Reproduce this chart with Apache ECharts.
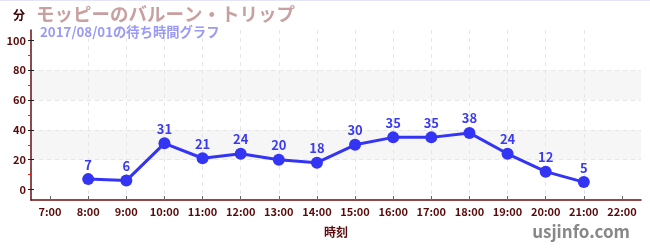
<!DOCTYPE html>
<html><head><meta charset="utf-8">
<script src="https://cdn.jsdelivr.net/npm/echarts@6/dist/echarts.min.js"></script>
<style>html,body{margin:0;padding:0;background:#fff}#c{width:650px;height:250px}</style>
</head><body><div id="c"></div>
<script>
const hours = [7,8,9,10,11,12,13,14,15,16,17,18,19,20,21,22];
const waitHours = [8,9,10,11,12,13,14,15,16,17,18,19,20,21];
const waitValues = [7,6,31,21,24,20,18,30,35,35,38,24,12,5];
const yMajorTicks = [0,20,40,60,80,100];
const yMinorTicks = [10,30,50,70,90];
const titleText = 'モッピーのバルーン・トリップ';
const subtitleText = '2017/08/01の待ち時間グラフ';
const unitText = '分';
const xName = '時刻';
const credit = 'usjinfo.com';

const FONT = '"Noto Sans CJK JP","Noto Sans",sans-serif';
const maroon = '#5a0a0a';
const chart = echarts.init(document.getElementById('c'), null, {renderer:'canvas'});
const data = waitHours.map((h,i)=>[h, waitValues[i]]);
chart.setOption({
  animation:false,
  textStyle:{fontFamily:FONT},
  title:[
    {text:titleText, left:31, top:0, textStyle:{fontFamily:FONT,fontSize:18.5,fontWeight:'bold',color:'#c9a0a0'}},
    {text:subtitleText, left:35, top:20, textStyle:{fontFamily:FONT,fontSize:13.3,fontWeight:'bold',color:'#9a9af5'}},
    {text:unitText, left:8, top:4, textStyle:{fontFamily:FONT,fontSize:12,fontWeight:'bold',color:'#3a0000'}},
    {text:credit, right:15, top:218, textStyle:{fontFamily:FONT,fontSize:17,fontWeight:'bold',color:'#888888'}}
  ],
  graphic:[{type:'rect',shape:{x:0,y:0,width:650,height:1},style:{fill:'#e4e4f8'},silent:true}],
  grid:{left:31,right:9,top:30,bottom:50,containLabel:false},
  xAxis:{
    type:'value', min:6.5, max:22.5,
    name:xName, nameLocation:'middle', nameGap:26,
    nameTextStyle:{fontFamily:FONT,fontSize:12,fontWeight:'bold',color:maroon},
    axisLine:{show:true,onZero:false,lineStyle:{color:'#6a0f0f',width:1.5}},
    axisTick:{show:true,inside:true,length:4,customValues:hours,lineStyle:{color:'#666'}},
    axisLabel:{customValues:hours,formatter:v=>v+':00',fontFamily:FONT,fontSize:11,fontWeight:'bold',color:maroon,margin:6},
    splitLine:{show:true,showMinLine:false,showMaxLine:false,lineStyle:{color:'#e6e6e6',type:[4,4]}}
  },
  yAxis:[
    {
      type:'value', min:-7, max:107,
      axisLine:{show:true,onZero:false,lineStyle:{color:'#6a0f0f',width:1.5}},
      axisTick:{show:true,length:3,customValues:yMajorTicks,lineStyle:{color:'#222'}},
      axisLabel:{customValues:yMajorTicks,fontFamily:FONT,fontSize:11,fontWeight:'bold',color:maroon,margin:5},
      splitLine:{show:true,showMinLine:false,showMaxLine:false,lineStyle:{color:'#e6e6e6',type:[4,4]}},
      splitArea:{show:true,areaStyle:{color:['rgba(0,0,0,0)','#f6f6f6']}}
    },
    {
      type:'value', min:-7, max:107, position:'left',
      axisLine:{show:false,onZero:false}, axisLabel:{show:false}, splitLine:{show:false},
      axisTick:{show:true,inside:true,length:3,customValues:yMajorTicks,lineStyle:{color:'#222'}}
    },
    {
      type:'value', min:-7, max:107, position:'left',
      axisLine:{show:false,onZero:false}, axisLabel:{show:false}, splitLine:{show:false},
      axisTick:{show:true,length:3,customValues:yMinorTicks,lineStyle:{color:'#dd2222'}}
    }
  ],
  series:[{
    type:'line', data:data, yAxisIndex:0,
    symbol:'circle', symbolSize:12,
    lineStyle:{color:'#3434f5',width:3},
    itemStyle:{color:'#3434f5'},
    label:{show:true,position:'top',distance:2,fontFamily:FONT,fontSize:13,fontWeight:'bold',color:'#3a3af0'}
  }]
});
</script></body></html>
